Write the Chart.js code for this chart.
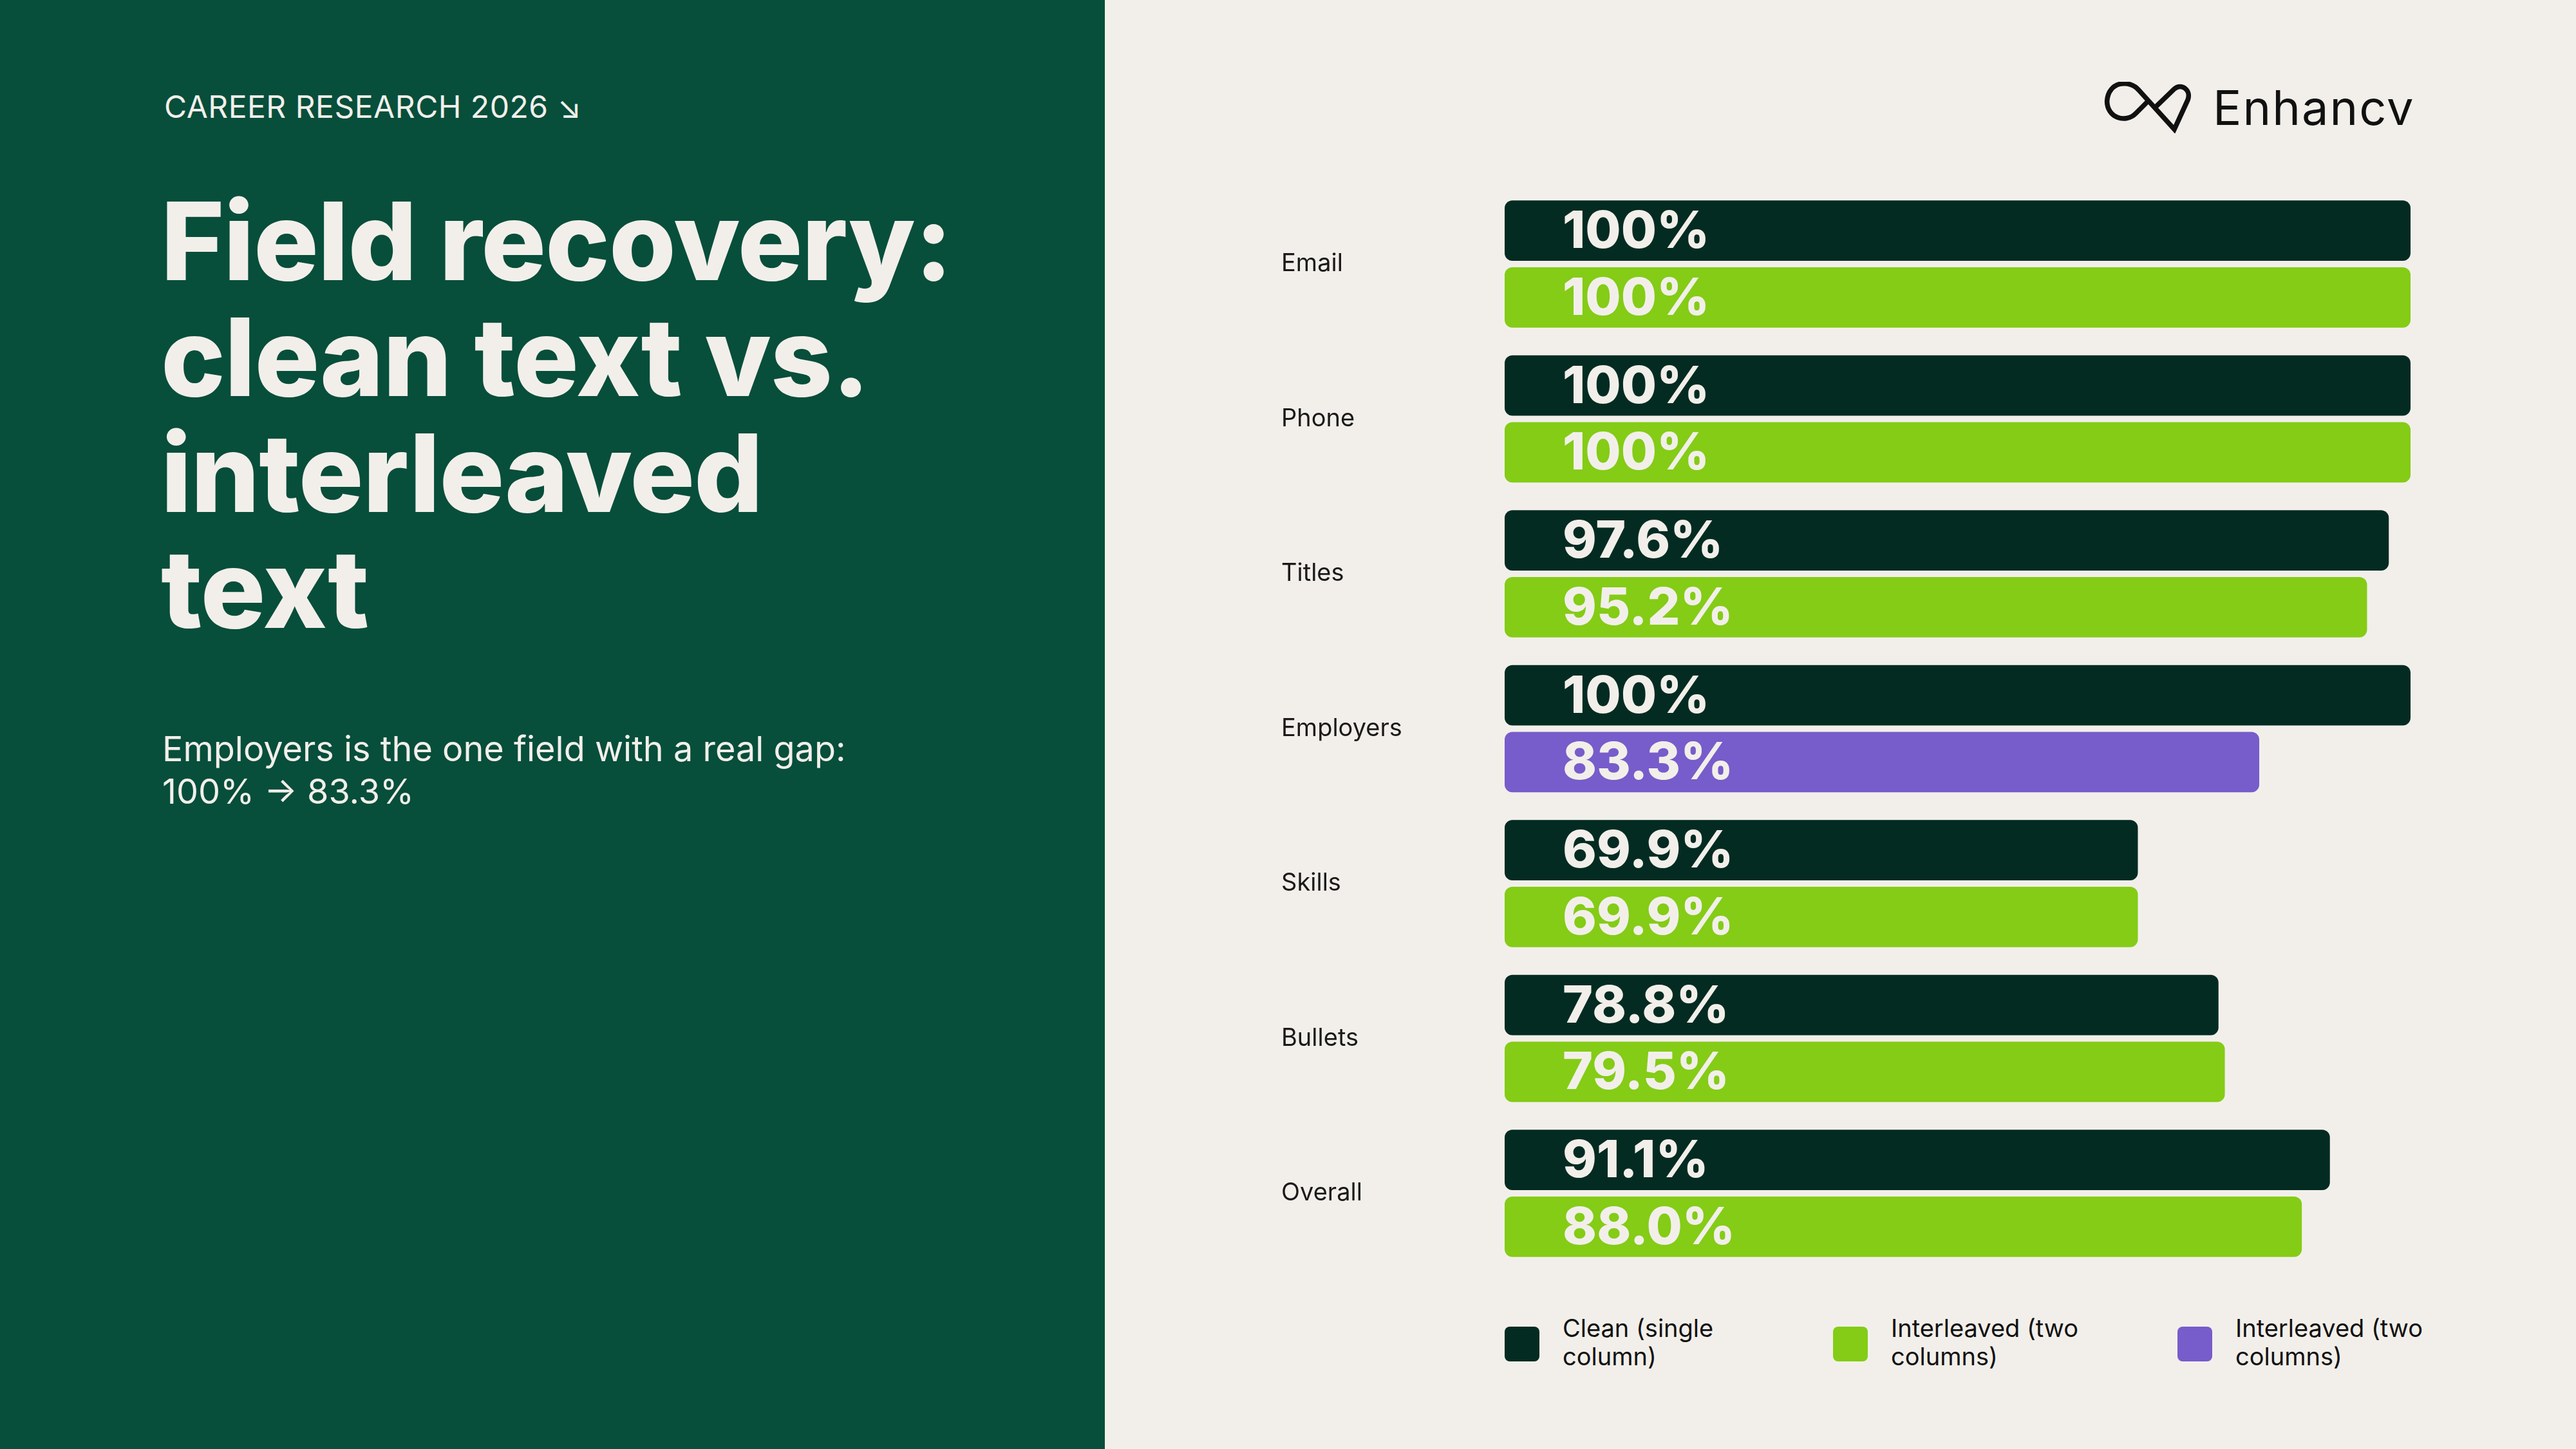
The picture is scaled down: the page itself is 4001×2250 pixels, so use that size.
<!DOCTYPE html>
<html><head><meta charset="utf-8">
<script src="https://cdn.jsdelivr.net/npm/chart.js@4"></script>
<style>
html,body{margin:0;padding:0;width:4001px;height:2250px;overflow:hidden;background:#f2efea;font-family:Inter,"Open Sans",sans-serif;}
#left{position:absolute;left:0;top:0;width:1716px;height:2250px;background:#074e3b;color:#f2efea;}
#kicker{position:absolute;left:255px;top:136px;font-size:48px;letter-spacing:0.5px;}
#title{position:absolute;left:250px;top:284px;font-size:168px;font-weight:800;line-height:180px;letter-spacing:-1px;}
#sub{position:absolute;left:252px;top:1130px;font-size:54px;line-height:66px;}
#logo{position:absolute;left:3265px;top:122px;display:flex;align-items:center;}
#logo span{font-size:74px;color:#111;margin-left:22px;letter-spacing:2px;}
#wrap{position:absolute;left:1990px;top:267px;width:1754px;height:1729px;}
#legend{position:absolute;left:2337px;top:2040px;width:1500px;height:100px;}
.li{position:absolute;top:0;display:flex;align-items:flex-start;font-size:38px;line-height:44px;color:#111;white-space:nowrap;}
.sw{width:54px;height:54px;border-radius:8px;margin-right:36px;margin-top:20px;flex:none;}
</style></head><body>
<div id="left">
<div id="kicker">CAREER RESEARCH 2026 ↘</div>
<div id="title">Field recovery:<br>clean text vs.<br>interleaved<br>text</div>
<div id="sub">Employers is the one field with a real gap:<br>100% → 83.3%</div>
</div>
<div id="logo"><svg width="150" height="80" viewBox="0 0 150 80"><path d="M60 20 C45 2 10 5 8 38 C8 65 38 75 55 58 L75 38 M60 20 L118 84 L140 36 C146 20 130 8 118 18 L90 45" fill="none" stroke="#111" stroke-width="8" stroke-linecap="round" transform="translate(0,-6) scale(0.95)"/></svg><span>Enhancv</span></div>
<div id="wrap"><canvas id="c"></canvas></div>
<div id="legend">
<div class="li" style="left:0"><div class="sw" style="background:#032b22"></div><div>Clean (single<br>column)</div></div>
<div class="li" style="left:510px"><div class="sw" style="background:#84cc16"></div><div>Interleaved (two<br>columns)</div></div>
<div class="li" style="left:1045px"><div class="sw" style="background:#775ccb"></div><div>Interleaved (two<br>columns)</div></div>
</div>
<script>
const categories=["Email","Phone","Titles","Employers","Skills","Bullets","Overall"];
const cleanValues=[100,100,97.6,100,69.9,78.8,91.1];
const interleavedValues=[100,100,95.2,null,69.9,79.5,88.0];
const interleavedGapValues=[null,null,null,83.3,null,null,null];
const seriesNames=["Clean (single column)","Interleaved (two columns)","Interleaved (two columns)"];
const labelPlugin={id:'vl',afterDatasetsDraw(chart){
  const ctx=chart.ctx;ctx.save();
  ctx.font='800 80px Inter';ctx.fillStyle='#f2efea';ctx.textBaseline='middle';
  chart.data.datasets.forEach((ds,i)=>{
    chart.getDatasetMeta(i).data.forEach((bar,j)=>{
      const v=ds.data[j]; if(v==null)return;
      const t=(v===100?'100':v.toFixed(1))+'%';
      ctx.fillText(t,bar.base+90,bar.y+3);
    });
  });ctx.restore();}};
new Chart(document.getElementById('c'),{
  type:'bar',
  data:{labels:categories,datasets:[
    {label:seriesNames[0],data:cleanValues,backgroundColor:'#032b22'},
    {label:seriesNames[1],data:interleavedValues,backgroundColor:'#84cc16'},
    {label:seriesNames[2],data:interleavedGapValues,backgroundColor:'#775ccb'}]},
  options:{indexAxis:'y',responsive:true,maintainAspectRatio:false,devicePixelRatio:1,animation:false,
    skipNull:true,categoryPercentage:0.863,barPercentage:0.904,
    datasets:{bar:{borderRadius:12,borderSkipped:false}},
    layout:{padding:0},
    plugins:{legend:{display:false},tooltip:{enabled:false}},
    scales:{
      x:{display:false,min:0,max:100},
      y:{grid:{display:false},border:{display:false},
         ticks:{crossAlign:'far',padding:0,color:'#1a1a1a',font:{family:'Inter',size:38}},
         afterFit(s){s.width=347;}}
    }},
  plugins:[labelPlugin]
});
</script>
</body></html>
